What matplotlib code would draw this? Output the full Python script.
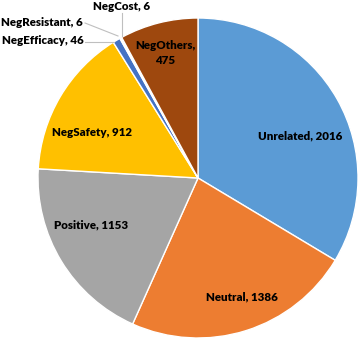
import numpy as np
import matplotlib
matplotlib.use("Agg")
import matplotlib.pyplot as plt

# slice data, clockwise from 12 o'clock
categories = ["Unrelated", "Neutral", "Positive", "NegSafety",
              "NegEfficacy", "NegResistant", "NegCost", "NegOthers"]
counts = [2016, 1386, 1153, 912, 46, 6, 6, 475]
colors = ["#5B9BD5", "#ED7D31", "#A5A5A5", "#FFC000",
          "#4472C4", "#70AD47", "#264478", "#9E480E"]

W, H = 358, 338
CX, CY, R = 198, 178, 160


def px(x, y):
    """pixel position -> data coords (radius 1 pie)"""
    return (x - CX) / R, (CY - y) / R


fig = plt.figure(figsize=(W / 100, H / 100), dpi=100)
ax = fig.add_axes([0, 0, 1, 1])

ax.pie(counts, colors=colors, startangle=90, counterclock=False,
       radius=1.0, center=(0, 0), frame=True,
       wedgeprops=dict(edgecolor="white", linewidth=1.0))
ax.set_xlim(-CX / R, (W - CX) / R)
ax.set_ylim((CY - H) / R, CY / R)
ax.axis("off")

font = dict(family="Lato", fontweight="heavy", fontsize=8.3, color="black",
            ha="center", va="center")

# labels inside the big slices
inside = {
    "Unrelated": (300, 136),
    "Neutral": (242, 297),
    "Positive": (91, 225),
    "NegSafety": (92, 133),
}
for name, val in zip(categories, counts):
    if name in inside:
        ax.text(*px(*inside[name]), f"{name}, {val}", **font)

ax.text(*px(165, 53), f"NegOthers,\n{counts[7]}", linespacing=1.45, **font)

# small slices with leader lines
outside = {
    "NegEfficacy": ((43, 40), [(85, 42), (114, 42)]),
    "NegResistant": ((42, 22), [(85, 23), (118, 36)]),
    "NegCost": ((122, 6), [(122, 13), (122, 36)]),
}
for name, val in zip(categories, counts):
    if name in outside:
        pos, line = outside[name]
        ax.text(*px(*pos), f"{name}, {val}", **font)
        xs, ys = zip(*[px(*p) for p in line])
        ax.plot(xs, ys, color="#BFBFBF", linewidth=0.8)

fig.savefig("out.png", dpi=100)
